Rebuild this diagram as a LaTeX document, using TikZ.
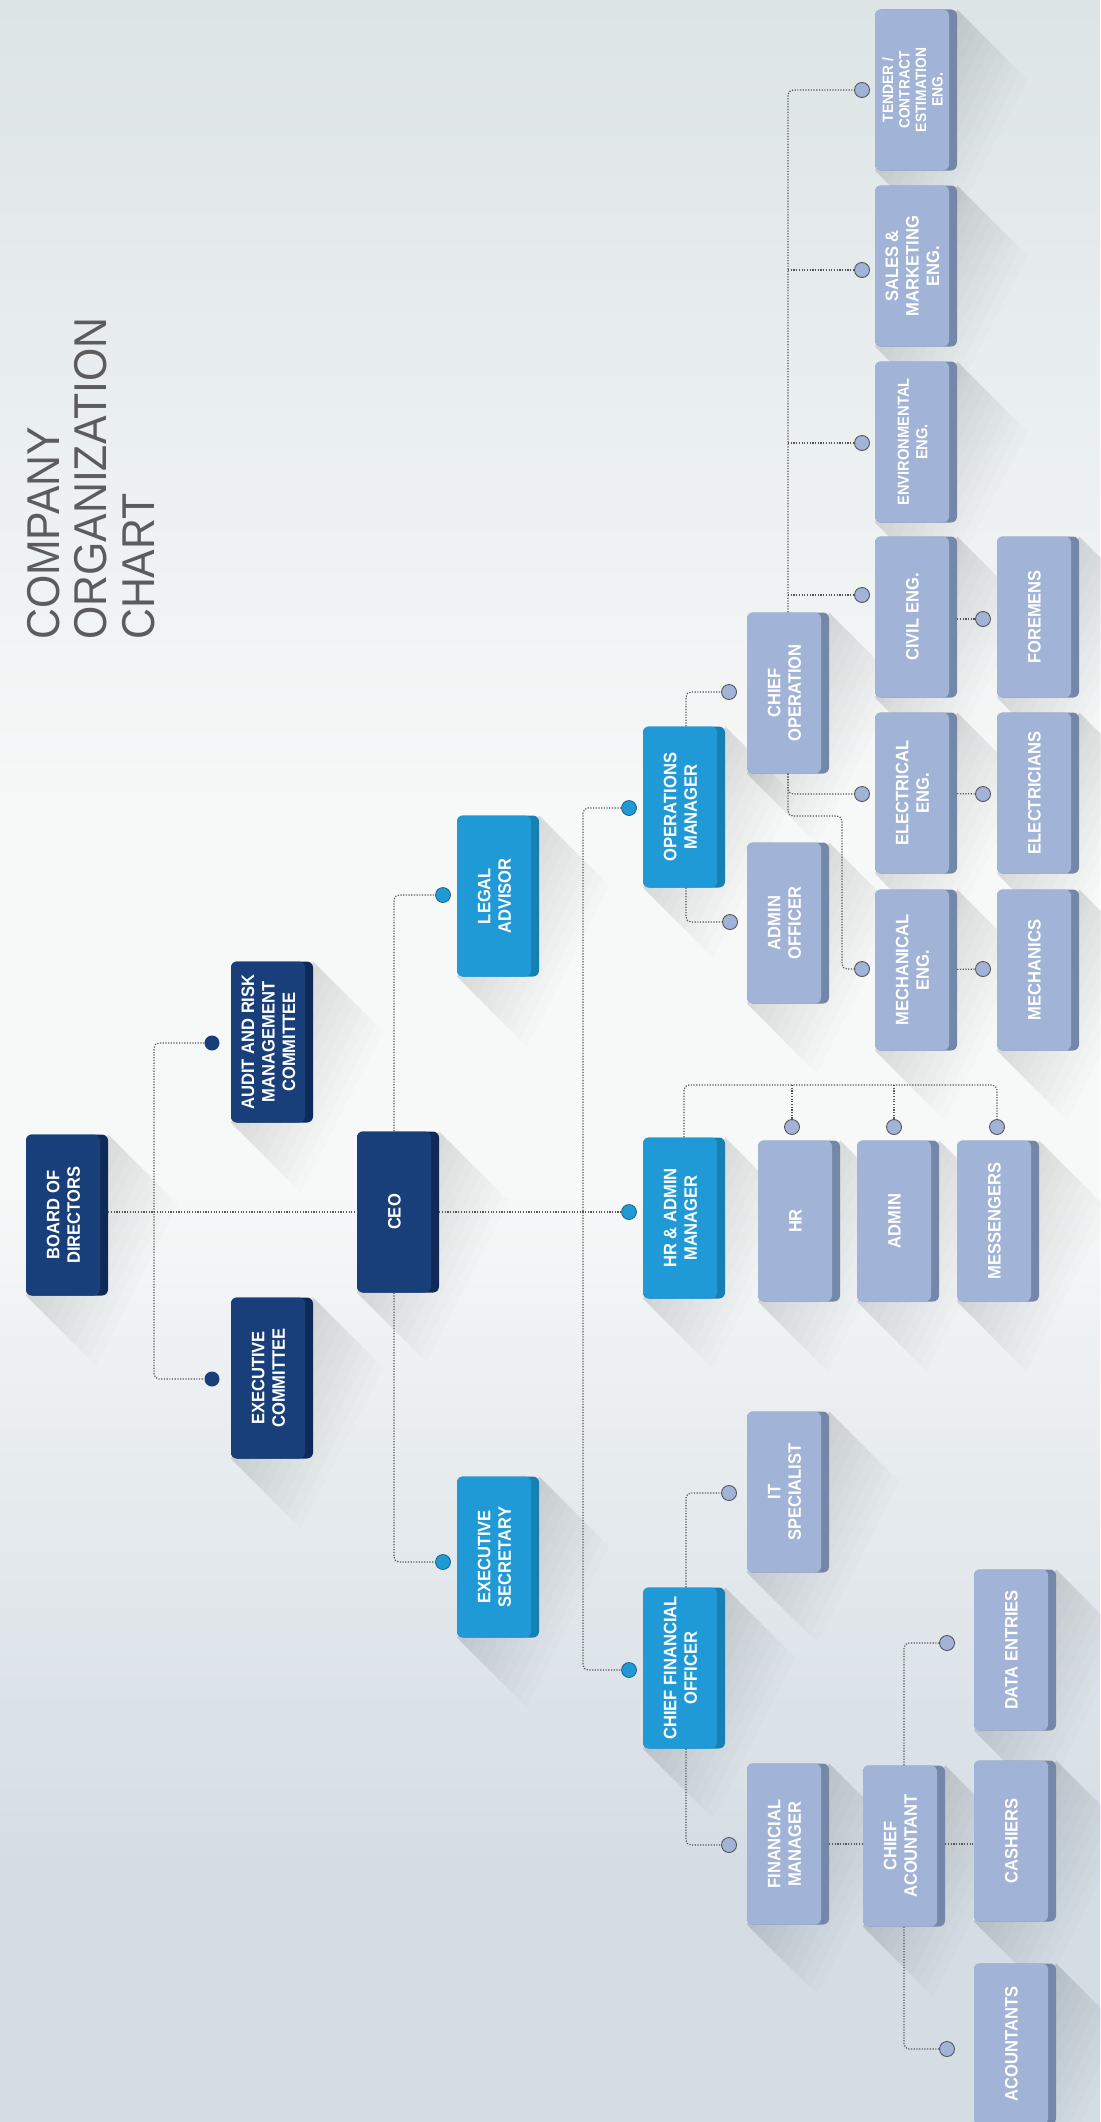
\documentclass[tikz,border=0pt]{standalone}
\usepackage{fontspec}
\usepackage{graphicx}
\newfontfamily\boxfont{Liberation Sans}[FakeStretch=0.92]
\newfontfamily\titlefont{Liberation Sans}[FakeStretch=0.93]

\definecolor{navyface}{HTML}{183F7A}
\definecolor{navyside}{HTML}{0F2A56}
\definecolor{blueface}{HTML}{1F9AD7}
\definecolor{blueside}{HTML}{1680B3}
\definecolor{greyface}{HTML}{A1B3D6}
\definecolor{greyside}{HTML}{7587A9}
\definecolor{linkgrey}{HTML}{555555}
\definecolor{titlegrey}{HTML}{5C5C5C}
\definecolor{bgtop}{HTML}{DDE4E6}
\definecolor{bgupper}{HTML}{EAEFF0}
\definecolor{bgmid}{HTML}{F7F8F8}
\definecolor{bglower}{HTML}{E6EBEE}
\definecolor{bgbot}{HTML}{D5DDE4}

% only 25bp..75bp of a shading is seen on the path
\pgfdeclareverticalshading{bgshade}{100bp}{color(0bp)=(bgbot); color(25bp)=(bgbot); color(31bp)=(bgbot);
	color(40bp)=(bglower); color(47bp)=(bgmid); color(56bp)=(bgmid); color(65bp)=(bgupper);
	color(75bp)=(bgtop); color(100bp)=(bgtop)}

\pgfdeclarelayer{bg}
\pgfdeclarelayer{shadow}
\pgfsetlayers{bg,shadow,main}

\tikzset{
	orgbox/.style 2 args={rectangle, rounded corners=6pt, minimum width=82pt, minimum height=161pt,
		inner sep=0pt, text=white, font=\boxfont\bfseries\fontsize{18}{20.5}\selectfont, fill=#2,
		path picture={\fill[#1, rounded corners=6pt] (path picture bounding box.south west) rectangle ([xshift=-8pt]path picture bounding box.north east);}},
	topbox/.style={orgbox={navyface}{navyside}},
	midbox/.style={orgbox={blueface}{blueside}},
	lowbox/.style={orgbox={greyface}{greyside}},
	knob/.style={circle, minimum size=15pt, inner sep=0pt},
	topknob/.style={knob, fill=navyface},
	midknob/.style={knob, fill=blueface, draw=blueside!60!black, line width=0.6pt},
	lowknob/.style={knob, fill=greyface, draw=linkgrey, line width=0.9pt},
	link/.style={draw=linkgrey, line width=1.2pt, dash pattern=on 1.2pt off 1.5pt, rounded corners=5pt}
}
\newcommand{\lbl}[1]{\rotatebox{90}{\begin{tabular}{@{}c@{}}#1\end{tabular}}\hspace*{3pt}}

\begin{document}
\begin{tikzpicture}[x=1pt,y=-1pt]
	\useasboundingbox (0,0) rectangle (1100,2122);
	\begin{pgfonlayer}{bg}
		\shade[shading=bgshade] (0,0) rectangle (1100,2122);
	\end{pgfonlayer}

	% title
	\node[anchor=south west, inner sep=0pt, text=titlegrey, font=\titlefont\fontsize{46}{47.5}\selectfont] (title) at (26,640)
		{\rotatebox{90}{\begin{tabular}{@{}l@{}}COMPANY\\ORGANIZATION\\CHART\end{tabular}}};

	% board level
	\node[topbox] (board) at (67,1215) {\lbl{BOARD OF\\DIRECTORS}};
	\node[topbox] (audit) at (272,1042) {\lbl{AUDIT AND RISK\\MANAGEMENT\\COMMITTEE}};
	\node[topbox] (execcom) at (272,1378) {\lbl{EXECUTIVE\\COMMITTEE}};
	\node[topbox] (ceo) at (398,1212) {\lbl{CEO}};

	% managers
	\node[midbox] (legal) at (498,896) {\lbl{LEGAL\\ADVISOR}};
	\node[midbox] (execsec) at (498,1557) {\lbl{EXECUTIVE\\SECRETARY}};
	\node[midbox] (opsmgr) at (684,807) {\lbl{OPERATIONS\\MANAGER}};
	\node[midbox] (hradmin) at (684,1218) {\lbl{HR \& ADMIN\\MANAGER}};
	\node[midbox] (cfo) at (684,1668) {\lbl{CHIEF FINANCIAL\\OFFICER}};

	% staff
	\node[lowbox] (chiefop) at (788,693) {\lbl{CHIEF\\OPERATION}};
	\node[lowbox] (admoff) at (788,923) {\lbl{ADMIN\\OFFICER}};
	\node[lowbox] (hr) at (799,1221) {\lbl{HR}};
	\node[lowbox] (admin) at (898,1221) {\lbl{ADMIN}};
	\node[lowbox] (messeng) at (998,1221) {\lbl{MESSENGERS}};
	\node[lowbox] (itspec) at (788,1492) {\lbl{IT\\SPECIALIST}};
	\node[lowbox] (finmgr) at (788,1844) {\lbl{FINANCIAL\\MANAGER}};
	\node[lowbox] (chiefacc) at (904,1846) {\lbl{CHIEF\\ACOUNTANT}};
	\node[lowbox] (dataent) at (1015,1650) {\lbl{DATA ENTRIES}};
	\node[lowbox] (cashiers) at (1015,1841) {\lbl{CASHIERS}};
	\node[lowbox] (accts) at (1015,2044) {\lbl{ACOUNTANTS}};

	\node[lowbox, font=\boxfont\bfseries\fontsize{15}{16.5}\selectfont] (tendeng) at (916,90) {\lbl{TENDER /\\CONTRACT\\ESTIMATION\\ENG.}};
	\node[lowbox] (saleseng) at (916,266) {\lbl{SALES \&\\MARKETING\\ENG.}};
	\node[lowbox, font=\boxfont\bfseries\fontsize{16}{18.5}\selectfont] (enveng) at (916,442) {\lbl{ENVIRONMENTAL\\ENG.}};
	\node[lowbox] (civeng) at (916,617) {\lbl{CIVIL ENG.}};
	\node[lowbox] (eleceng) at (916,793) {\lbl{ELECTRICAL\\ENG.}};
	\node[lowbox] (mecheng) at (916,970) {\lbl{MECHANICAL\\ENG.}};
	\node[lowbox] (foremen) at (1038,617) {\lbl{FOREMENS}};
	\node[lowbox] (elecs) at (1038,793) {\lbl{ELECTRICIANS}};
	\node[lowbox] (mechs) at (1038,970) {\lbl{MECHANICS}};

	% long shadows
	\begin{pgfonlayer}{shadow}
		\foreach \n in {board,audit,execcom,ceo,legal,execsec,opsmgr,hradmin,cfo,chiefop,admoff,hr,admin,messeng,
			itspec,finmgr,chiefacc,dataent,cashiers,accts,tendeng,saleseng,enveng,civeng,eleceng,mecheng,foremen,elecs,mechs}
		{
			\foreach \k in {1,...,10}
				\fill[black, opacity=0.013] (\n.south west) -- ([shift={(\k*7,\k*7)}]\n.south west)
					-- ([shift={(\k*7,\k*7)}]\n.north east) -- (\n.north east) -- cycle;
		}
	\end{pgfonlayer}

	% knobs
	\node[topknob] (k-audit) at (212,1043) {};
	\node[topknob] (k-execcom) at (212,1379) {};
	\node[midknob] (k-legal) at (443,895) {};
	\node[midknob] (k-execsec) at (443,1562) {};
	\node[midknob] (k-opsmgr) at (629,808) {};
	\node[midknob] (k-hradmin) at (629,1212) {};
	\node[midknob] (k-cfo) at (629,1670) {};
	\node[lowknob] (k-chiefop) at (729,692) {};
	\node[lowknob] (k-admoff) at (730,922) {};
	\node[lowknob] (k-hr) at (792,1127) {};
	\node[lowknob] (k-admin) at (894,1127) {};
	\node[lowknob] (k-messeng) at (997,1127) {};
	\node[lowknob] (k-itspec) at (729,1493) {};
	\node[lowknob] (k-finmgr) at (729,1845) {};
	\node[lowknob] (k-dataent) at (947,1643) {};
	\node[lowknob] (k-accts) at (947,2049) {};
	\node[lowknob] (k-tendeng) at (862,90) {};
	\node[lowknob] (k-saleseng) at (862,270) {};
	\node[lowknob] (k-enveng) at (862,443) {};
	\node[lowknob] (k-civeng) at (862,595) {};
	\node[lowknob] (k-eleceng) at (862,794) {};
	\node[lowknob] (k-mecheng) at (862,969) {};
	\node[lowknob] (k-foremen) at (983,619) {};
	\node[lowknob] (k-elecs) at (983,794) {};
	\node[lowknob] (k-mechs) at (983,969) {};

	% connectors
	\coordinate (bj) at (154,1212);
	\coordinate (cj) at (583,1212);
	\coordinate (hj) at (684,1085);
	\coordinate (mj) at (842,816);
	\draw[link] (board.east |- bj) -- (ceo.west |- bj);
	\draw[link] (k-audit) -| (bj) |- (k-execcom);
	\draw[link] (ceo.east |- k-hradmin) -- (k-hradmin);
	\draw[link] (k-opsmgr) -| (cj) |- (k-cfo);
	\draw[link] ([xshift=-4pt]ceo.north) |- (k-legal);
	\draw[link] ([xshift=-4pt]ceo.south) |- (k-execsec);

	\draw[link] ([xshift=2pt]opsmgr.north) |- (k-chiefop);
	\draw[link] ([xshift=2pt]opsmgr.south) |- (k-admoff);
	\draw[link] (chiefop.north) |- (k-tendeng);
	\foreach \e in {saleseng,enveng,civeng}
		\draw[link] (chiefop.north |- k-\e) -- (k-\e);
	\draw[link] (chiefop.south) |- (k-eleceng);
	\draw[link] (chiefop.south) |- (mj) |- (k-mecheng);
	\draw[link] (eleceng) -- (k-elecs);
	\draw[link] (mecheng) -- (k-mechs);
	\draw[link] (civeng.east |- k-foremen) -- (k-foremen);

	\draw[link] (hradmin.north) |- (k-messeng |- hj) -- (k-messeng);
	\draw[link] (k-hr |- hj) -- (k-hr);
	\draw[link] (k-admin |- hj) -- (k-admin);

	\draw[link] ([xshift=2pt]cfo.north) |- (k-itspec);
	\draw[link] ([xshift=2pt]cfo.south) |- (k-finmgr);
	\draw[link] (finmgr.east) -- (chiefacc.west |- finmgr.east);
	\draw[link] (chiefacc.east |- finmgr.east) -- (cashiers.west |- finmgr.east);
	\draw[link] (chiefacc.north) |- (k-dataent);
	\draw[link] (chiefacc.south) |- (k-accts);
\end{tikzpicture}
\end{document}
